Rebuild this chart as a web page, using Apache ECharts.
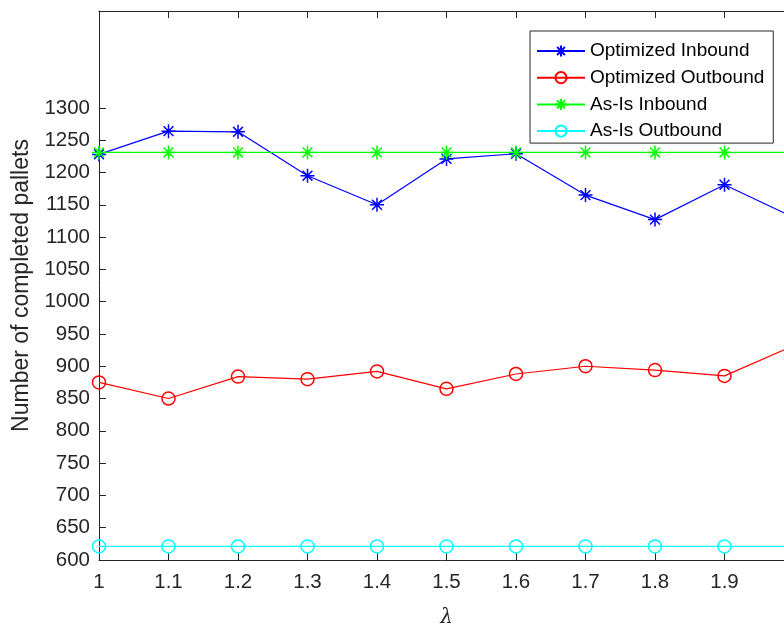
<!DOCTYPE html>
<html>
<head>
<meta charset="utf-8">
<script src="https://cdn.jsdelivr.net/npm/echarts@6/dist/echarts.min.js"></script>
<style>html,body{margin:0;padding:0;background:#fff;}#c{width:784px;height:626px;}</style>
</head>
<body>
<div id="c"></div>
<script>
const lambdas = [1.0, 1.1, 1.2, 1.3, 1.4, 1.5, 1.6, 1.7, 1.8, 1.9, 2.0];
const optimizedInbound  = [1228, 1264, 1263, 1195, 1150, 1221, 1229, 1165, 1127, 1181, 1130];
const optimizedOutbound = [875, 850, 884, 880, 892, 865, 888, 900, 894, 885, 932];
const asIsInbound  = [1231, 1231, 1231, 1231, 1231, 1231, 1231, 1231, 1231, 1231, 1231];
const asIsOutbound = [621, 621, 621, 621, 621, 621, 621, 621, 621, 621, 621];
const yTickLabels = [600, 650, 700, 750, 800, 850, 900, 950, 1000, 1050, 1100, 1150, 1200, 1250, 1300];
const seriesNames = ['Optimized Inbound', 'Optimized Outbound', 'As-Is Inbound', 'As-Is Outbound'];

const axisColor = '#262626';
const font = 'Liberation Sans, Arial, sans-serif';
const star = 'path://M10,0L10,20M0,10L20,10M3,3L17,17M3,17L17,3';

function pairs(vals) { return lambdas.map((x, i) => [x, vals[i]]); }
function mk(name, vals, color, symbol, size) {
  return {
    name: name, type: 'line', data: pairs(vals),
    symbol: symbol, symbolSize: size, showAllSymbol: true,
    lineStyle: { color: color, width: 1.2 },
    itemStyle: { color: 'rgba(0,0,0,0)', borderColor: color, borderWidth: 1.5 },
    emphasis: { disabled: true },
    animation: false
  };
}

const chart = echarts.init(document.getElementById('c'), null, { renderer: 'canvas' });
chart.setOption({
  backgroundColor: '#fff',
  animation: false,
  grid: { left: 99, top: 11, width: 695, height: 549, containLabel: false, outerBoundsMode: 'none' },
  xAxis: [{
    type: 'value', min: 1, max: 2, interval: 0.1, position: 'bottom',
    name: 'λ', nameLocation: 'middle', nameGap: 48,
    nameTextStyle: { fontFamily: 'DejaVu Serif, serif', fontStyle: 'italic', fontSize: 20, color: axisColor },
    axisLine: { show: true, lineStyle: { color: axisColor, width: 1 } },
    axisTick: { show: true, inside: true, length: 7, lineStyle: { color: axisColor } },
    axisLabel: { color: axisColor, fontSize: 20.5, fontFamily: font, margin: 12,
      formatter: v => String(+v.toFixed(1)) },
    splitLine: { show: false }
  }, {
    type: 'value', min: 1, max: 2, interval: 0.1, position: 'top',
    axisLine: { show: true, onZero: false, lineStyle: { color: axisColor, width: 1 } },
    axisTick: { show: true, inside: true, length: 7, lineStyle: { color: axisColor } },
    axisLabel: { show: false },
    splitLine: { show: false }
  }],
  yAxis: [{
    type: 'value', min: 600, max: 1450, interval: 50,
    name: 'Number of completed pallets', nameLocation: 'middle', nameGap: 57,
    nameTextStyle: { fontFamily: font, fontSize: 23, color: axisColor },
    axisLine: { show: true, lineStyle: { color: axisColor, width: 1 } },
    axisTick: { show: true, inside: true, length: 7, lineStyle: { color: axisColor }, customValues: yTickLabels },
    axisLabel: { color: axisColor, fontSize: 20.5, fontFamily: font, margin: 9, customValues: yTickLabels,
      formatter: v => String(v) },
    splitLine: { show: false }
  }],
  legend: {
    orient: 'vertical', left: 530, top: 31,
    data: seriesNames,
    backgroundColor: '#fff', borderColor: axisColor, borderWidth: 1,
    padding: [10, 9, 2, 6],
    itemWidth: 48, itemHeight: 14, itemGap: 6.7,
    textStyle: { fontFamily: font, fontSize: 19, color: '#000', lineHeight: 20 },
    selectedMode: false
  },
  series: [
    mk(seriesNames[0], optimizedInbound, '#0000ff', star, 14),
    mk(seriesNames[1], optimizedOutbound, '#ff0000', 'circle', 13),
    mk(seriesNames[2], asIsInbound, '#00ff00', star, 14),
    mk(seriesNames[3], asIsOutbound, '#00ffff', 'circle', 13)
  ]
});
</script>
</body>
</html>
